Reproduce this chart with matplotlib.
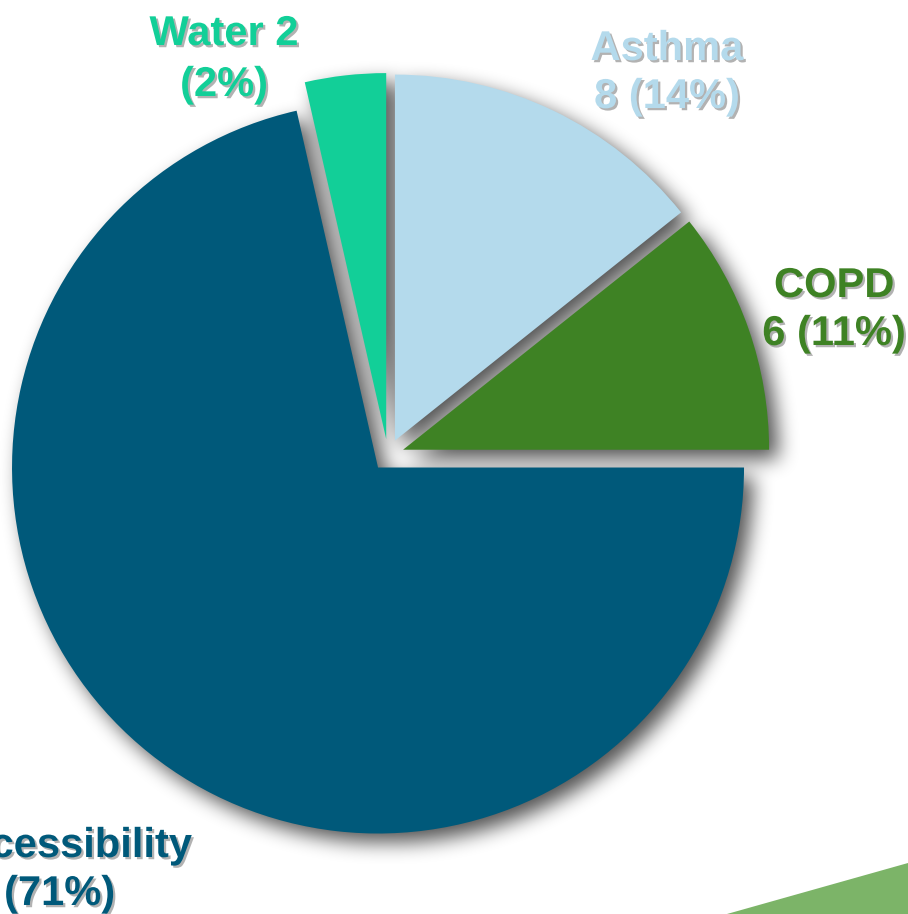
import numpy as np
import matplotlib
matplotlib.use("Agg")
import matplotlib.pyplot as plt
import matplotlib.patheffects as pe
from matplotlib.patches import Polygon

# slices, counter-clockwise from 3 o'clock
categories = ["COPD", "Asthma", "Water", "Accessibility"]
counts = [6, 8, 2, 40]
colors = ["#3E8224", "#B4DAEC", "#12CF98", "#00597A"]
label_lines = [
    ["COPD", "6 (11%)"],
    ["Asthma", "8 (14%)"],
    ["Water 2", "(2%)"],
    ["Accessibility", "40 (71%)"],
]

W, H = 908, 914
fig = plt.figure(figsize=(W / 100, H / 100), dpi=100)
fig.patch.set_facecolor("white")
ax = fig.add_axes([0, 0, 1, 1])

# explode is in data units here (radius is in pixels)
wedges, _ = ax.pie(
    counts,
    colors=colors,
    startangle=0,
    explode=[16] * len(counts),
    center=(388, H - 455),
    radius=366,
    wedgeprops=dict(linewidth=0),
)
for w in wedges:
    w.set_zorder(3)

ax.set_xlim(0, W)
ax.set_ylim(0, H)
ax.set_aspect("auto")
ax.axis("off")


# soft drop shadow built from the wedge outlines
def box_blur(a, r):
    out = a
    for axis in (0, 1):
        pad = [(0, 0), (0, 0)]
        pad[axis] = (r + 1, r)
        p = np.pad(out, pad)
        c = np.cumsum(p, axis=axis)
        if axis == 0:
            out = (c[2 * r + 1:, :] - c[:-2 * r - 1, :]) / (2 * r + 1)
        else:
            out = (c[:, 2 * r + 1:] - c[:, :-2 * r - 1]) / (2 * r + 1)
    return out


rows, cols = np.mgrid[0:H, 0:W]
pts = np.column_stack([(cols + 0.5).ravel(), (H - rows - 0.5).ravel()])
mask = np.zeros(H * W, dtype=bool)
for w in wedges:
    path = w.get_path().transformed(w.get_patch_transform())
    mask |= path.contains_points(pts)
mask = mask.reshape(H, W).astype(float)

shift = 9
shadow = np.zeros_like(mask)
shadow[shift:, shift:] = mask[:-shift, :-shift]
for _ in range(3):
    shadow = box_blur(shadow, 9)

rgba = np.zeros((H, W, 4))
rgba[..., 3] = 0.68 * shadow
ax.imshow(rgba, extent=(0, W, 0, H), origin="upper", zorder=2,
          interpolation="bilinear")

# green swoosh in the lower right corner
ax.add_patch(Polygon([(727, 0), (W, H - 863), (W, 0)], closed=True,
                     facecolor="#7CB468", edgecolor="none", zorder=1))

# labels: x of first line, x of second line, baselines, alignment
label_x1 = [834, 667, 224, 192]
label_x2 = [834, 667, 224, 115]
label_y = [[297, 345], [60, 108], [45, 96], [857, 905]]
label_ha = ["center", "center", "center", "right"]

shadow_fx = [pe.SimplePatchShadow(offset=(1.6, -1.6), shadow_rgbFace="#555555",
                                  alpha=0.45), pe.Normal()]
for i, (lines, col) in enumerate(zip(label_lines, colors)):
    xs = [label_x1[i], label_x2[i]]
    for line, lx, ly in zip(lines, xs, label_y[i]):
        ax.text(lx, H - ly, line, ha=label_ha[i], va="baseline", color=col,
                fontsize=30, fontweight="bold", family="Liberation Sans",
                path_effects=shadow_fx, zorder=5)

fig.savefig("out.png", dpi=100)
plt.close(fig)
